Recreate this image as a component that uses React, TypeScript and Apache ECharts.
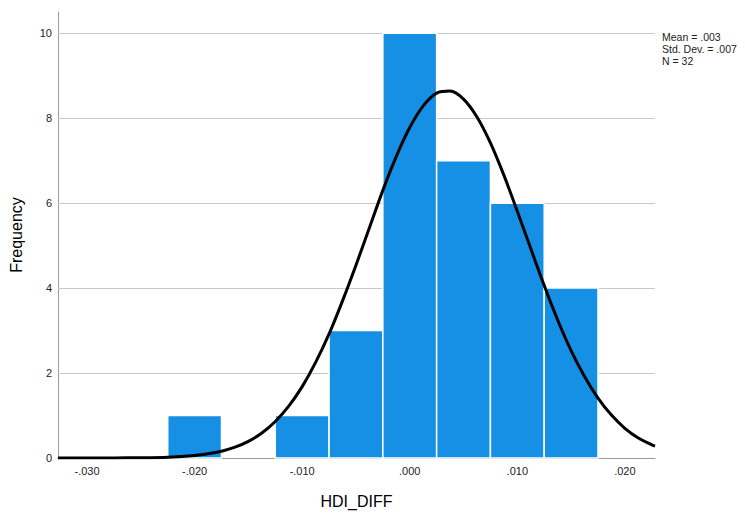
import React, { useEffect, useRef } from "react";
import * as echarts from "echarts";

// Histogram bins of HDI_DIFF (bin width .005)
const binStart = [-0.0225, -0.0125, -0.0075, -0.0025, 0.0025, 0.0075, 0.0125];
const binEnd = [-0.0175, -0.0075, -0.0025, 0.0025, 0.0075, 0.0125, 0.0175];
const counts = [1, 1, 3, 10, 7, 6, 4];

// Normal curve
const curveX = [
  -0.0327, -0.03, -0.0275, -0.025, -0.0225, -0.02, -0.01875, -0.0175, -0.01625, -0.015, -0.01375, -0.0125,
  -0.01125, -0.01, -0.00875, -0.0075, -0.00625, -0.005, -0.00375, -0.0025, -0.00125, 0, 0.00125, 0.0025,
  0.00375, 0.005, 0.00625, 0.0075, 0.00875, 0.01, 0.01125, 0.0125, 0.01375, 0.015, 0.01625, 0.0175,
  0.01875, 0.02, 0.02125, 0.0225, 0.0228,
];
const curveY = [
  0, 0, 0.002, 0.006, 0.02, 0.058, 0.098, 0.16, 0.254, 0.392, 0.588, 0.86,
  1.22, 1.68, 2.25, 2.92, 3.7, 4.54, 5.42, 6.3, 7.1, 7.78, 8.29, 8.59,
  8.64, 8.45, 8.03, 7.42, 6.66, 5.81, 4.93, 4.06, 3.25, 2.53, 1.92, 1.41,
  1.01, 0.7, 0.47, 0.31, 0.28,
];

const yGridValues = [2, 4, 6, 8, 10];
const statsLines = ["Mean = .003", "Std. Dev. = .007", "N = 32"];

const FONT = "Liberation Sans, Arial, sans-serif";

export default function App() {
  const ref = useRef<HTMLDivElement>(null);

  useEffect(() => {
    if (!ref.current) return;
    const chart = echarts.init(ref.current, null, { renderer: "svg" });
    const barData = binStart.map((s, i) => [s, binEnd[i], counts[i]]);
    const lineData = curveX.map((x, i) => [x, curveY[i]]);

    chart.setOption({
      animation: false,
      backgroundColor: "#ffffff",
      textStyle: { fontFamily: FONT },
      grid: { left: 58, right: 90, top: 12, bottom: 51 },
      xAxis: {
        type: "value",
        min: -0.0327,
        max: 0.0228,
        splitNumber: 5,
        name: "HDI_DIFF",
        nameLocation: "middle",
        nameGap: 35,
        nameTextStyle: { fontSize: 16, color: "#000", fontFamily: FONT },
        axisLine: { show: true, onZero: false, lineStyle: { color: "#9a9a9a", width: 1 } },
        axisTick: { show: false },
        splitLine: { show: false },
        axisLabel: {
          showMinLabel: false,
          showMaxLabel: false,
          color: "#222",
          fontSize: 11,
          margin: 7,
          fontFamily: FONT,
          formatter: (v: number) => {
            if (Math.abs(v * 100 - Math.round(v * 100)) > 1e-6) return "";
            return v.toFixed(3).replace("0.", ".");
          },
        },
      },
      yAxis: {
        type: "value",
        min: 0,
        max: 10.5,
        interval: 2,
        name: "Frequency",
        nameLocation: "middle",
        nameGap: 34,
        nameTextStyle: { fontSize: 16, color: "#000", fontFamily: FONT },
        axisLine: { show: true, onZero: false, lineStyle: { color: "#9a9a9a", width: 1 } },
        axisTick: { show: false },
        splitLine: { show: false },
        axisLabel: {
          showMaxLabel: false,
          color: "#222",
          fontSize: 11,
          margin: 6,
          fontFamily: FONT,
          formatter: (v: number) => (Math.abs(v - Math.round(v)) > 1e-6 || Math.round(v) % 2 !== 0 ? "" : String(v)),
        },
      },
      series: [
        {
          type: "line",
          data: [],
          silent: true,
          z: 1,
          markLine: {
            silent: true,
            z: 1,
            symbol: "none",
            label: { show: false },
            lineStyle: { color: "#c8c8c8", type: "solid", width: 1 },
            data: yGridValues.map((v) => ({ yAxis: v })),
          },
        },
        {
          type: "custom",
          z: 2,
          data: barData,
          renderItem: (params: any, api: any) => {
            const tl = api.coord([api.value(0), api.value(2)]);
            const br = api.coord([api.value(1), 0]);
            return {
              type: "rect",
              shape: { x: tl[0], y: tl[1], width: br[0] - tl[0], height: br[1] - tl[1] },
              style: { fill: "#1590e4", stroke: "#ffffff", lineWidth: 1.5 },
            };
          },
        },
        {
          type: "line",
          z: 3,
          data: lineData,
          smooth: 0.3,
          showSymbol: false,
          symbol: "none",
          lineStyle: { color: "#000", width: 3 },
        },
      ],
      graphic: [
        {
          type: "text",
          left: 662,
          top: 31,
          style: {
            text: statsLines.join("\n"),
            fontSize: 10.5,
            lineHeight: 12,
            fill: "#222",
            fontFamily: FONT,
          },
        },
      ],
    });

    return () => chart.dispose();
  }, []);

  return <div ref={ref} style={{ position: "fixed", left: 0, top: 0, width: 745, height: 514 }} />;
}
